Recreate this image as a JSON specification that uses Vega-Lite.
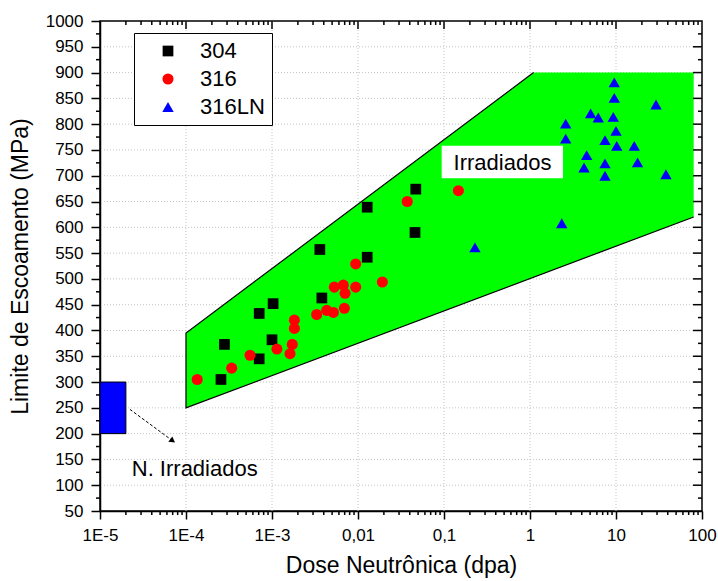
{
  "$schema": "https://vega.github.io/schema/vega-lite/v6.json",
  "width": 602,
  "height": 490,
  "autosize": {"type": "none"},
  "padding": {"left": 100, "top": 21, "right": 16, "bottom": 70},
  "background": "white",
  "config": {
    "font": "Liberation Sans",
    "view": {"stroke": "black", "strokeWidth": 1.5},
    "axis": {
      "domainColor": "black", "domainWidth": 1.5,
      "labelColor": "black", "titleColor": "black",
      "labelFont": "Liberation Sans", "titleFont": "Liberation Sans",
      "titleFontWeight": "normal", "labelFontSize": 17, "titleFontSize": 23,
      "grid": false
    }
  },
  "datasets": {
    "poly": [
      {"x": 0.0001, "y": 250, "y2": 395},
      {"x": 1.1, "y": 503, "y2": 900},
      {"x": 80, "y": 620, "y2": 900}
    ],
    "outline": [
      {"o": 1, "x": 1.1, "y": 900},
      {"o": 2, "x": 0.0001, "y": 395},
      {"o": 3, "x": 0.0001, "y": 250},
      {"o": 4, "x": 80, "y": 620}
    ],
    "gridx": [{"x": 0.0001}, {"x": 0.001}, {"x": 0.01}, {"x": 0.1}, {"x": 1}, {"x": 10}],
    "gridy": [{"y": 100}, {"y": 150}, {"y": 200}, {"y": 250}, {"y": 300}, {"y": 350}, {"y": 400}, {"y": 450}, {"y": 500}, {"y": 550}, {"y": 600}, {"y": 650}, {"y": 700}, {"y": 750}, {"y": 800}, {"y": 850}, {"y": 900}, {"y": 950}],
    "minx": [{"x": 0.00002}, {"x": 0.00003}, {"x": 0.00004}, {"x": 0.00005}, {"x": 0.00006}, {"x": 0.00007}, {"x": 0.00008}, {"x": 0.00009}, {"x": 0.0002}, {"x": 0.0003}, {"x": 0.0004}, {"x": 0.0005}, {"x": 0.0006}, {"x": 0.0007}, {"x": 0.0008}, {"x": 0.0009}, {"x": 0.002}, {"x": 0.003}, {"x": 0.004}, {"x": 0.005}, {"x": 0.006}, {"x": 0.007}, {"x": 0.008}, {"x": 0.009}, {"x": 0.02}, {"x": 0.03}, {"x": 0.04}, {"x": 0.05}, {"x": 0.06}, {"x": 0.07}, {"x": 0.08}, {"x": 0.09}, {"x": 0.2}, {"x": 0.3}, {"x": 0.4}, {"x": 0.5}, {"x": 0.6}, {"x": 0.7}, {"x": 0.8}, {"x": 0.9}, {"x": 2}, {"x": 3}, {"x": 4}, {"x": 5}, {"x": 6}, {"x": 7}, {"x": 8}, {"x": 9}, {"x": 20}, {"x": 30}, {"x": 40}, {"x": 50}, {"x": 60}, {"x": 70}, {"x": 80}, {"x": 90}],
    "miny": [{"y": 75}, {"y": 125}, {"y": 175}, {"y": 225}, {"y": 275}, {"y": 325}, {"y": 375}, {"y": 425}, {"y": 475}, {"y": 525}, {"y": 575}, {"y": 625}, {"y": 675}, {"y": 725}, {"y": 775}, {"y": 825}, {"y": 875}, {"y": 925}, {"y": 975}],
    "pts": [
      {"s": "304", "x": 0.000255, "y": 305},
      {"s": "304", "x": 0.00028, "y": 373},
      {"s": "304", "x": 0.00071, "y": 345},
      {"s": "304", "x": 0.00071, "y": 433},
      {"s": "304", "x": 0.00103, "y": 452},
      {"s": "304", "x": 0.001, "y": 382},
      {"s": "304", "x": 0.0036, "y": 557},
      {"s": "304", "x": 0.0038, "y": 463},
      {"s": "304", "x": 0.0128, "y": 639},
      {"s": "304", "x": 0.0128, "y": 542},
      {"s": "304", "x": 0.047, "y": 674},
      {"s": "304", "x": 0.046, "y": 590},
      {"s": "316", "x": 0.000135, "y": 305},
      {"s": "316", "x": 0.00034, "y": 327},
      {"s": "316", "x": 0.000555, "y": 352},
      {"s": "316", "x": 0.00114, "y": 364},
      {"s": "316", "x": 0.00162, "y": 355},
      {"s": "316", "x": 0.00172, "y": 373},
      {"s": "316", "x": 0.00182, "y": 404},
      {"s": "316", "x": 0.00182, "y": 420},
      {"s": "316", "x": 0.00331, "y": 431},
      {"s": "316", "x": 0.00433, "y": 439},
      {"s": "316", "x": 0.00517, "y": 435},
      {"s": "316", "x": 0.00694, "y": 443},
      {"s": "316", "x": 0.0053, "y": 484},
      {"s": "316", "x": 0.00675, "y": 488},
      {"s": "316", "x": 0.00707, "y": 472},
      {"s": "316", "x": 0.0094, "y": 484},
      {"s": "316", "x": 0.0094, "y": 529},
      {"s": "316", "x": 0.0192, "y": 494},
      {"s": "316", "x": 0.0374, "y": 650},
      {"s": "316", "x": 0.147, "y": 671},
      {"s": "316LN", "x": 0.229, "y": 561},
      {"s": "316LN", "x": 2.34, "y": 608},
      {"s": "316LN", "x": 2.6, "y": 801},
      {"s": "316LN", "x": 2.6, "y": 772},
      {"s": "316LN", "x": 4.56, "y": 740},
      {"s": "316LN", "x": 4.25, "y": 716},
      {"s": "316LN", "x": 5.07, "y": 821},
      {"s": "316LN", "x": 6.22, "y": 813},
      {"s": "316LN", "x": 7.45, "y": 769},
      {"s": "316LN", "x": 7.45, "y": 724},
      {"s": "316LN", "x": 7.45, "y": 700},
      {"s": "316LN", "x": 9.3, "y": 814},
      {"s": "316LN", "x": 9.55, "y": 851},
      {"s": "316LN", "x": 9.55, "y": 881},
      {"s": "316LN", "x": 10, "y": 787},
      {"s": "316LN", "x": 10.2, "y": 758},
      {"s": "316LN", "x": 16.3, "y": 758},
      {"s": "316LN", "x": 17.8, "y": 726},
      {"s": "316LN", "x": 29.2, "y": 838},
      {"s": "316LN", "x": 38.1, "y": 703}
    ]
  },
  "layer": [
    {
      "data": {"name": "gridx"},
      "mark": {"type": "rule", "color": "#c4c4c4", "strokeWidth": 1, "strokeDash": [1, 2]},
      "encoding": {
        "x": {
          "field": "x", "type": "quantitative",
          "scale": {"type": "log", "domain": [0.00001, 100], "nice": false},
          "axis": {
            "orient": "bottom",
            "title": "Dose Neutrônica (dpa)",
            "values": [0.00001, 0.0001, 0.001, 0.01, 0.1, 1, 10, 100],
            "labelExpr": "datum.value < 0.005 ? '1E-' + (-round(log(datum.value)/LN10)) : replace('' + datum.value, '.', ',')",
            "labelFlush": false,
            "ticks": true,
            "tickSize": 8,
            "tickColor": "black",
            "tickWidth": 1.5,
            "labelPadding": 8,
            "titleY": 61,
            "titleBaseline": "alphabetic"
          }
        }
      }
    },
    {
      "data": {"name": "gridy"},
      "mark": {"type": "rule", "color": "#c4c4c4", "strokeWidth": 1, "strokeDash": [1, 2]},
      "encoding": {
        "y": {
          "field": "y", "type": "quantitative",
          "scale": {"domain": [50, 1000], "nice": false, "zero": false},
          "axis": {
            "orient": "left",
            "title": "Limite de Escoamento (MPa)",
            "values": [50,100,150,200,250,300,350,400,450,500,550,600,650,700,750,800,850,900,950,1000],
            "labelExpr": "'' + datum.value",
            "ticks": true,
            "tickSize": 9,
            "tickColor": "black",
            "tickWidth": 1.5,
            "labelPadding": 8,
            "titleX": -80,
            "titleBaseline": "middle"
          }
        }
      }
    },
    {
      "data": {"name": "poly"},
      "mark": {"type": "area", "color": "#00FF00", "opacity": 1},
      "encoding": {
        "x": {"field": "x", "type": "quantitative", "axis": null},
        "y": {"field": "y", "type": "quantitative", "axis": null},
        "y2": {"field": "y2"}
      }
    },
    {
      "data": {"name": "outline"},
      "mark": {"type": "line", "color": "black", "strokeWidth": 1.2},
      "encoding": {
        "x": {"field": "x", "type": "quantitative", "axis": null},
        "y": {"field": "y", "type": "quantitative", "axis": null},
        "order": {"field": "o", "type": "quantitative"}
      }
    },
    {
      "data": {"name": "minx"},
      "mark": {"type": "tick", "orient": "vertical", "size": 4, "thickness": 1.5, "color": "black", "opacity": 1, "yOffset": 2},
      "encoding": {
        "x": {"field": "x", "type": "quantitative", "axis": null},
        "y": {"datum": 50, "type": "quantitative", "axis": null}
      }
    },
    {
      "data": {"name": "minx"},
      "mark": {"type": "tick", "orient": "vertical", "size": 4, "thickness": 1.5, "color": "black", "opacity": 1, "yOffset": 2},
      "encoding": {
        "x": {"field": "x", "type": "quantitative", "axis": null},
        "y": {"datum": 1000, "type": "quantitative", "axis": null}
      }
    },
    {
      "data": {"name": "gridx"},
      "mark": {"type": "tick", "orient": "vertical", "size": 8, "thickness": 1.5, "color": "black", "opacity": 1, "yOffset": 4},
      "encoding": {
        "x": {"field": "x", "type": "quantitative", "axis": null},
        "y": {"datum": 1000, "type": "quantitative", "axis": null}
      }
    },
    {
      "data": {"name": "miny"},
      "mark": {"type": "tick", "orient": "horizontal", "size": 4, "thickness": 1.5, "color": "black", "opacity": 1, "xOffset": -2},
      "encoding": {
        "y": {"field": "y", "type": "quantitative", "axis": null},
        "x": {"datum": 0.00001, "type": "quantitative", "axis": null}
      }
    },
    {
      "data": {"name": "miny"},
      "mark": {"type": "tick", "orient": "horizontal", "size": 4, "thickness": 1.5, "color": "black", "opacity": 1, "xOffset": -2},
      "encoding": {
        "y": {"field": "y", "type": "quantitative", "axis": null},
        "x": {"datum": 100, "type": "quantitative", "axis": null}
      }
    },
    {
      "data": {"name": "gridy"},
      "mark": {"type": "tick", "orient": "horizontal", "size": 9, "thickness": 1.5, "color": "black", "opacity": 1, "xOffset": -4.5},
      "encoding": {
        "y": {"field": "y", "type": "quantitative", "axis": null},
        "x": {"datum": 100, "type": "quantitative", "axis": null}
      }
    },
    {
      "data": {"values": [{"x": 0.094, "x2": 2.42, "y": 695, "y2": 758}]},
      "mark": {"type": "rect", "color": "white"},
      "encoding": {
        "x": {"field": "x", "type": "quantitative", "axis": null},
        "x2": {"field": "x2"},
        "y": {"field": "y", "type": "quantitative", "axis": null},
        "y2": {"field": "y2"}
      }
    },
    {
      "data": {"values": [{"x": 0.479, "y": 711, "t": "Irradiados"}]},
      "mark": {"type": "text", "fontSize": 22, "font": "Liberation Sans", "color": "black", "align": "center", "baseline": "alphabetic"},
      "encoding": {
        "x": {"field": "x", "type": "quantitative", "axis": null},
        "y": {"field": "y", "type": "quantitative", "axis": null},
        "text": {"field": "t", "type": "nominal"}
      }
    },
    {
      "data": {"values": [{"x": 0.00001, "x2": 0.00002, "y": 200, "y2": 300}]},
      "mark": {"type": "rect", "color": "#0000FF", "stroke": "black", "strokeWidth": 1},
      "encoding": {
        "x": {"field": "x", "type": "quantitative", "axis": null},
        "x2": {"field": "x2"},
        "y": {"field": "y", "type": "quantitative", "axis": null},
        "y2": {"field": "y2"}
      }
    },
    {
      "data": {"values": [{"x": 0.0000223, "y": 247}, {"x": 0.0000700, "y": 186}]},
      "mark": {"type": "line", "color": "black", "strokeWidth": 1, "strokeDash": [3, 2]},
      "encoding": {
        "x": {"field": "x", "type": "quantitative", "axis": null},
        "y": {"field": "y", "type": "quantitative", "axis": null}
      }
    },
    {
      "data": {"values": [{"x": 0.0000700, "y": 186}]},
      "mark": {"type": "point", "shape": "triangle-up", "filled": true, "color": "black", "size": 45, "angle": 127, "opacity": 1},
      "encoding": {
        "x": {"field": "x", "type": "quantitative", "axis": null},
        "y": {"field": "y", "type": "quantitative", "axis": null}
      }
    },
    {
      "data": {"values": [{"x": 0.0000234, "y": 117, "t": "N. Irradiados"}]},
      "mark": {"type": "text", "fontSize": 22, "font": "Liberation Sans", "color": "black", "align": "left", "baseline": "alphabetic"},
      "encoding": {
        "x": {"field": "x", "type": "quantitative", "axis": null},
        "y": {"field": "y", "type": "quantitative", "axis": null},
        "text": {"field": "t", "type": "nominal"}
      }
    },
    {
      "data": {"name": "pts"},
      "mark": {"type": "point", "filled": true, "opacity": 1, "strokeWidth": 0},
      "encoding": {
        "x": {"field": "x", "type": "quantitative", "axis": null},
        "y": {"field": "y", "type": "quantitative", "axis": null},
        "color": {
          "field": "s", "type": "nominal",
          "scale": {"domain": ["304", "316", "316LN"], "range": ["#000000", "#FF0000", "#0000FF"]},
          "legend": {
            "title": null, "orient": "none", "legendX": 34, "legendY": 12,
            "strokeColor": "black", "fillColor": "white",
            "padding": 7, "symbolOffset": 16, "labelOffset": 21,
            "labelFontSize": 22, "labelFont": "Liberation Sans", "labelColor": "black",
            "rowPadding": 6, "symbolStrokeWidth": 0
          }
        },
        "shape": {
          "field": "s", "type": "nominal",
          "scale": {"domain": ["304", "316", "316LN"], "range": ["square", "circle", "triangle-up"]},
          "legend": {
            "title": null, "orient": "none", "legendX": 34, "legendY": 12,
            "strokeColor": "black", "fillColor": "white",
            "padding": 7, "symbolOffset": 16, "labelOffset": 21,
            "labelFontSize": 22, "labelFont": "Liberation Sans", "labelColor": "black",
            "rowPadding": 6, "symbolStrokeWidth": 0
          }
        },
        "size": {
          "field": "s", "type": "nominal",
          "scale": {"domain": ["304", "316", "316LN"], "range": [115, 130, 160]},
          "legend": {
            "title": null, "orient": "none", "legendX": 34, "legendY": 12,
            "strokeColor": "black", "fillColor": "white",
            "padding": 7, "symbolOffset": 16, "labelOffset": 21,
            "labelFontSize": 22, "labelFont": "Liberation Sans", "labelColor": "black",
            "rowPadding": 6, "symbolStrokeWidth": 0
          }
        }
      }
    }
  ],
  "resolve": {"axis": {"x": "independent", "y": "independent"}}
}
